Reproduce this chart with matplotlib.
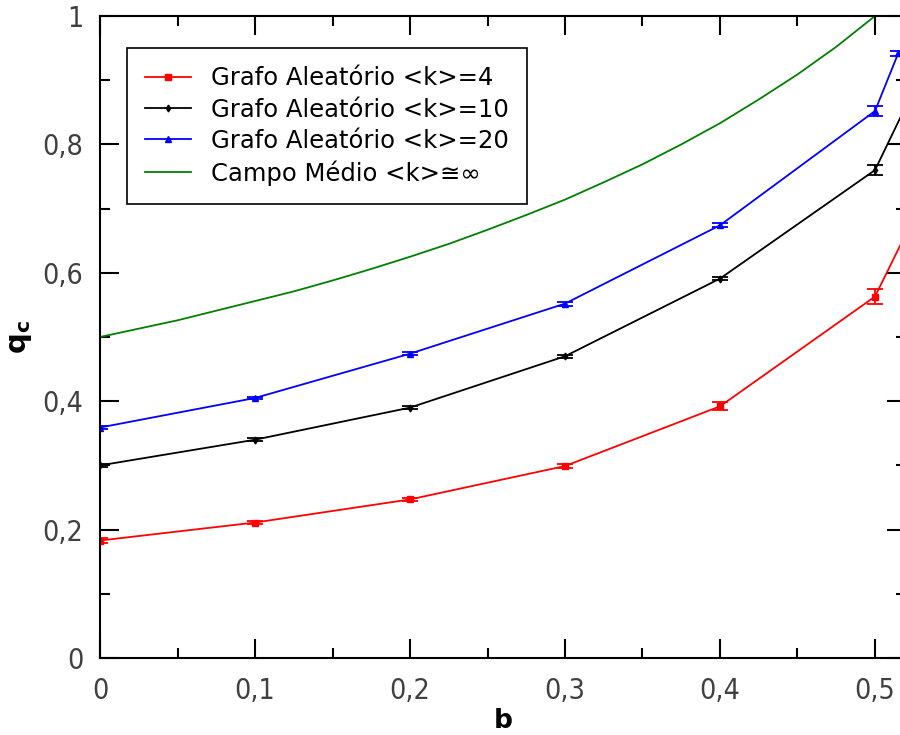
import numpy as np
import matplotlib
matplotlib.use('Agg')
import matplotlib.pyplot as plt
from matplotlib.ticker import MultipleLocator, FuncFormatter

# q_c versus b for random graphs of mean degree <k>
b_k4 = [0.0, 0.1, 0.2, 0.3, 0.4, 0.5, 0.53]
q_k4 = [0.183, 0.211, 0.247, 0.299, 0.392, 0.563, 0.710]
err_k4 = [0.004, 0.003, 0.003, 0.003, 0.006, 0.012, 0.0]

b_k10 = [0.0, 0.1, 0.2, 0.3, 0.4, 0.5, 0.53]
q_k10 = [0.300, 0.340, 0.390, 0.470, 0.591, 0.760, 0.910]
err_k10 = [0.002, 0.002, 0.002, 0.002, 0.002, 0.008, 0.0]

b_k20 = [0.0, 0.1, 0.2, 0.3, 0.4, 0.5, 0.515]
q_k20 = [0.359, 0.405, 0.474, 0.552, 0.674, 0.852, 0.942]
err_k20 = [0.002, 0.002, 0.002, 0.003, 0.003, 0.008, 0.004]

# mean-field curve
b_mf = [0.0, 0.025, 0.05, 0.075, 0.1, 0.125, 0.15, 0.175, 0.2, 0.225, 0.25,
        0.275, 0.3, 0.325, 0.35, 0.375, 0.4, 0.425, 0.45, 0.475, 0.5]
q_mf = [0.500, 0.513, 0.526, 0.541, 0.556, 0.571, 0.588, 0.606, 0.625, 0.645,
        0.667, 0.690, 0.714, 0.741, 0.769, 0.800, 0.833, 0.870, 0.909, 0.952, 1.000]

xticks = [0.0, 0.1, 0.2, 0.3, 0.4, 0.5]
yticks = [0.0, 0.2, 0.4, 0.6, 0.8, 1.0]

fig = plt.figure(figsize=(9, 7.35), dpi=100)
ax = fig.add_axes([100/900, 77/735, 806/900, 642/735])

series = [
    (b_k4, q_k4, err_k4, 'red', 's', 5, 'Grafo Aleatório <k>=4'),
    (b_k10, q_k10, err_k10, 'black', 'd', 3.5, 'Grafo Aleatório <k>=10'),
    (b_k20, q_k20, err_k20, 'blue', '^', 4.5, 'Grafo Aleatório <k>=20'),
]
handles = []
for b, q, e, c, m, ms, lab in series:
    ax.errorbar(b, q, yerr=e, fmt='none', ecolor=c, capsize=6,
                elinewidth=1.3, capthick=1.3)
    ln, = ax.plot(b, q, color=c, marker=m, ms=ms, lw=1.3, label=lab)
    handles.append(ln)
ln, = ax.plot(b_mf, q_mf, color='green', lw=1.3, label='Campo Médio <k>≅∞')
handles.append(ln)

ax.set_xlim(0, 0.52)
ax.set_ylim(0, 1)
ax.set_xticks(xticks)
ax.set_yticks(yticks)
ax.xaxis.set_minor_locator(MultipleLocator(0.05))
ax.yaxis.set_minor_locator(MultipleLocator(0.1))

comma = FuncFormatter(lambda v, p: ('%g' % round(v, 3)).replace('.', ','))
ax.xaxis.set_major_formatter(comma)
ax.yaxis.set_major_formatter(comma)

ax.tick_params(which='both', direction='in', top=True, right=True, width=1.5,
               colors='black', labelcolor='#404040')
ax.tick_params(which='major', length=13.5)
ax.tick_params(axis='x', which='major', pad=14)
ax.tick_params(axis='y', which='major', pad=12)
ax.tick_params(which='minor', length=7.5)
for lab in ax.get_xticklabels() + ax.get_yticklabels():
    lab.set_fontsize(20.5)
    lab.set_fontstretch('condensed')
for s in ax.spines.values():
    s.set_linewidth(1.5)

ax.set_xlabel('b', fontsize=19, fontweight='bold', labelpad=2)
ax.set_ylabel(r'$\mathbf{q_c}$', fontsize=21, labelpad=6)

leg = ax.legend(handles=handles, loc='upper left',
                bbox_to_anchor=(0.0335, 0.950), borderaxespad=0,
                fontsize=17.5, fancybox=False, edgecolor='black',
                framealpha=1, handlelength=1.9, handletextpad=0.8,
                labelspacing=0.3, borderpad=0.75)
leg.get_frame().set_linewidth(1.2)

fig.savefig('out.png', dpi=100)
